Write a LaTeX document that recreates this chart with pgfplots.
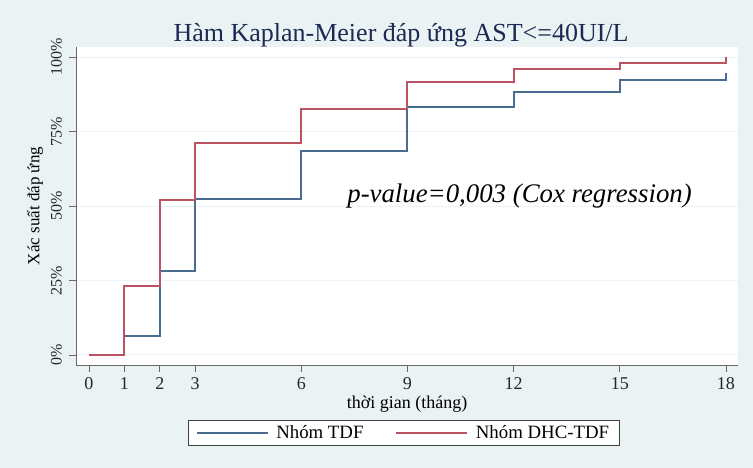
\documentclass[border=0pt]{standalone}
\usepackage{pgfplots}
\pgfplotsset{compat=1.18}
\usepackage{fontspec}
\setmainfont{Liberation Serif}

\definecolor{bgc}{RGB}{234,242,243}
\definecolor{gridc}{RGB}{236,243,244}
\definecolor{kmblue}{RGB}{74,108,145}
\definecolor{kmred}{RGB}{186,84,98}
\definecolor{titc}{RGB}{26,42,82}
\definecolor{axisc}{RGB}{105,105,105}

\begin{document}
\begin{tikzpicture}
  % background of the whole graph (Stata style)
  \path[use as bounding box, fill=bgc] (-76pt,-103pt) rectangle (677pt,365pt);
  \begin{axis}[
    at={(0pt,0pt)}, anchor=south west,
    scale only axis,
    width=662pt, height=318pt,
    xmin=-0.367, xmax=18.34,
    ymin=-3.36, ymax=103.4,
    clip=false,
    axis x line*=bottom, axis y line*=left,
    axis line style={draw=axisc, line width=0.8pt, -},
    axis background/.style={fill=white},
    tick align=outside,
    major tick length=7pt,
    tick style={draw=axisc, line width=0.8pt},
    xtick={0,1,2,3,6,9,12,15,18},
    xticklabels={0,1,2,3,6,9,12,15,18},
    ytick={0,25,50,75,100},
    yticklabels={0\%,25\%,50\%,75\%,100\%},
    minor tick num=0,
    ymajorgrids,
    grid style={draw=gridc, line width=1pt},
    xticklabel style={font=\fontsize{18}{20}\selectfont, text=black!85, inner sep=0pt, anchor=north, yshift=-5pt},
    yticklabel style={font=\fontsize{16}{18}\selectfont, text=black!85, rotate=90, inner sep=0pt, anchor=south, yshift=7pt},
    xlabel={thời gian (tháng)},
    ylabel={Xác suất đáp ứng},
    xlabel style={font=\fontsize{18}{20}\selectfont, at={(axis description cs:0.5,-0.122)}, anchor=center},
    ylabel style={font=\fontsize{17}{19}\selectfont, at={(axis description cs:-0.062,0.5)}, anchor=center},
    legend columns=2,
    legend style={
      at={(axis description cs:0.4947,-0.2138)}, anchor=center,
      font=\fontsize{18.8}{21}\selectfont,
      draw=black!75, line width=0.6pt, fill=white,
      inner xsep=8pt, inner ysep=3pt,
      /tikz/every odd column/.append style={column sep=6pt},
      /tikz/every even column/.append style={column sep=30pt},
    },
    legend cell align=left,
    legend image code/.code={\draw[#1, line width=1.4pt] (0pt,0pt) -- (71pt,0pt);},
  ]
    \addplot[kmblue, line width=2pt, const plot, mark=none]
      coordinates {
        (0,0) (1,6.3) (2,28.3) (3,52.5) (6,68.4) (9,83.1)
        (12,88.3) (15,92.4) (18,94.8)
      };
    \addlegendentry{Nhóm TDF}
    \addplot[kmred, line width=2pt, const plot, mark=none]
      coordinates {
        (0,0) (1,23.3) (2,51.9) (3,71.3) (6,82.6) (9,91.8)
        (12,95.9) (15,98.0) (18,100)
      };
    \addlegendentry{Nhóm DHC-TDF}
    \node[font=\fontsize{26.8}{30}\selectfont\itshape] at (rel axis cs:0.67,0.531)
      {p-value=0,003 (Cox regression)};
    \node[font=\fontsize{26}{29}\selectfont, text=titc] at (rel axis cs:0.491,1.038)
      {Hàm Kaplan-Meier đáp ứng AST<=40UI/L};
  \end{axis}
\end{tikzpicture}
\end{document}
